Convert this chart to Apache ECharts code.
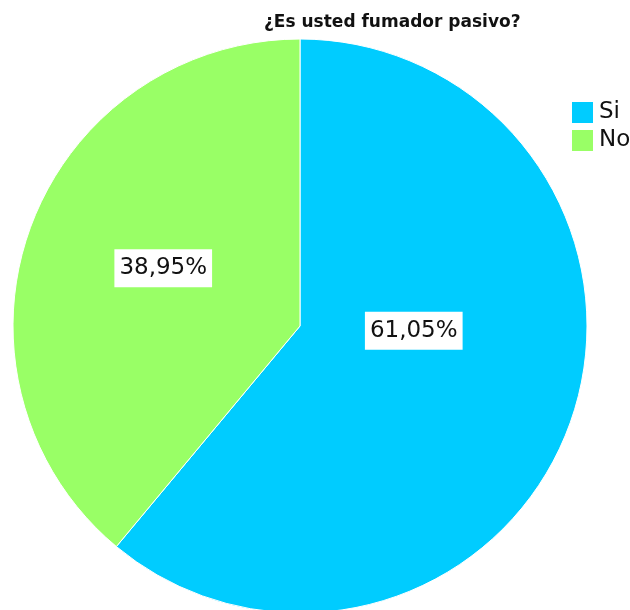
<!DOCTYPE html>
<html>
<head>
<meta charset="utf-8">
<script src="https://cdn.jsdelivr.net/npm/echarts@6/dist/echarts.min.js"></script>
<style>
  html, body { margin: 0; padding: 0; background: #fff; }
  #chart { width: 630px; height: 610px; }
</style>
</head>
<body>
<div id="chart"></div>
<script>
// Survey answers and their shares (percent)
const categories = ['Si', 'No'];
const shares = [61.05, 38.95];
const colors = ['#00CCFF', '#99FF66'];
// label nudges away from the default inside spot
const labelOffsets = [[-24, -45], [1, -8]];

const fmt = v => v.toFixed(2).replace('.', ',') + '%';
const FONT = '"DejaVu Sans", "Liberation Sans", Arial, sans-serif';

const chart = echarts.init(document.getElementById('chart'), null, { renderer: 'canvas' });
chart.setOption({
  animation: false,
  title: {
    text: '¿Es usted fumador pasivo?',
    left: 264,
    top: 14,
    padding: 0,
    textStyle: {
      fontFamily: FONT,
      fontSize: 17,
      fontWeight: 'bold',
      color: '#111'
    }
  },
  legend: {
    orient: 'vertical',
    left: 570,
    top: 100,
    padding: 0,
    icon: 'rect',
    itemWidth: 23,
    itemHeight: 23,
    itemGap: 3,
    selectedMode: false,
    data: categories,
    textStyle: {
      fontFamily: FONT,
      fontSize: 23,
      color: '#111'
    }
  },
  series: [{
    type: 'pie',
    center: [300, 326],
    radius: 287,
    startAngle: 90,
    clockwise: true,
    silent: true,
    itemStyle: { borderColor: '#fff', borderWidth: 1 },
    label: {
      show: true,
      position: 'inside',
      formatter: p => fmt(p.value),
      fontFamily: FONT,
      fontSize: 23,
      color: '#111',
      backgroundColor: '#fff',
      padding: [6, 5, 6, 5],
      lineHeight: 26
    },
    labelLine: { show: false },
    data: categories.map((name, i) => ({
      name,
      value: shares[i],
      itemStyle: { color: colors[i] },
      label: { offset: labelOffsets[i] }
    }))
  }]
});
</script>
</body>
</html>
